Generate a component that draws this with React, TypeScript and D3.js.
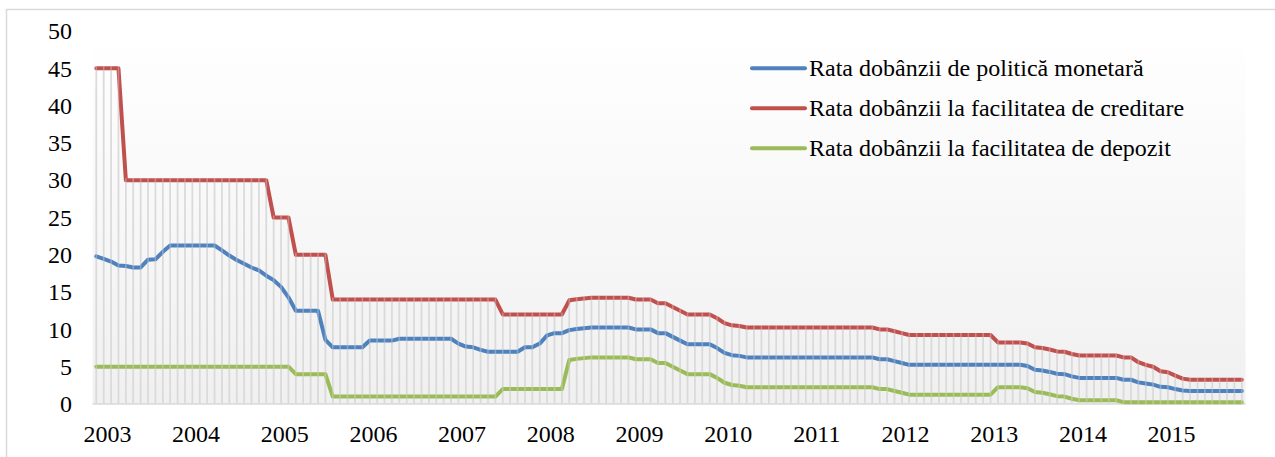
import React from "react";
import * as d3 from "d3";

// Monthly observations, January 2003 – December 2015 (percent)
const years = ["2003", "2004", "2005", "2006", "2007", "2008", "2009", "2010", "2011", "2012", "2013", "2014", "2015"];

const policyRate = [
  19.8, 19.45, 19.1, 18.55, 18.5, 18.3, 18.3, 19.35, 19.4, 20.4, 21.25, 21.25,
  21.25, 21.25, 21.25, 21.25, 21.25, 20.6, 19.9, 19.3, 18.8, 18.3, 17.9, 17.2,
  16.6, 15.7, 14.3, 12.5, 12.5, 12.5, 12.5, 8.6, 7.6, 7.6, 7.6, 7.6,
  7.6, 8.5, 8.5, 8.5, 8.5, 8.75, 8.75, 8.75, 8.75, 8.75, 8.75, 8.75,
  8.75, 8.1, 7.7, 7.6, 7.25, 7.0, 7.0, 7.0, 7.0, 7.0, 7.6, 7.6,
  8.1, 9.2, 9.5, 9.5, 9.9, 10.05, 10.15, 10.25, 10.25, 10.25, 10.25, 10.25,
  10.25, 10.0, 10.0, 10.0, 9.5, 9.5, 9.0, 8.5, 8.0, 8.0, 8.0, 8.0,
  7.5, 6.85, 6.55, 6.45, 6.25, 6.25, 6.25, 6.25, 6.25, 6.25, 6.25, 6.25,
  6.25, 6.25, 6.25, 6.25, 6.25, 6.25, 6.25, 6.25, 6.25, 6.25, 6.0, 6.0,
  5.75, 5.5, 5.25, 5.25, 5.25, 5.25, 5.25, 5.25, 5.25, 5.25, 5.25, 5.25,
  5.25, 5.25, 5.25, 5.25, 5.25, 5.25, 5.1, 4.6, 4.5, 4.3, 4.05, 4.0,
  3.7, 3.5, 3.5, 3.5, 3.5, 3.5, 3.5, 3.25, 3.25, 2.9, 2.75, 2.6,
  2.3, 2.25, 2.0, 1.8, 1.75, 1.75, 1.75, 1.75, 1.75, 1.75, 1.75, 1.75,
];

const lendingRate = [
  45, 45, 45, 45, 30, 30, 30, 30, 30, 30, 30, 30,
  30, 30, 30, 30, 30, 30, 30, 30, 30, 30, 30, 30,
  25, 25, 25, 20, 20, 20, 20, 20, 14, 14, 14, 14,
  14, 14, 14, 14, 14, 14, 14, 14, 14, 14, 14, 14,
  14, 14, 14, 14, 14, 14, 14, 12, 12, 12, 12, 12,
  12, 12, 12, 12, 13.9, 14.05, 14.15, 14.25, 14.25, 14.25, 14.25, 14.25,
  14.25, 14.0, 14.0, 14.0, 13.5, 13.5, 13.0, 12.5, 12.0, 12.0, 12.0, 12.0,
  11.5, 10.85, 10.55, 10.45, 10.25, 10.25, 10.25, 10.25, 10.25, 10.25, 10.25, 10.25,
  10.25, 10.25, 10.25, 10.25, 10.25, 10.25, 10.25, 10.25, 10.25, 10.25, 10.0, 10.0,
  9.75, 9.5, 9.25, 9.25, 9.25, 9.25, 9.25, 9.25, 9.25, 9.25, 9.25, 9.25,
  9.25, 9.25, 8.25, 8.25, 8.25, 8.25, 8.1, 7.6, 7.5, 7.3, 7.05, 7.0,
  6.7, 6.5, 6.5, 6.5, 6.5, 6.5, 6.5, 6.25, 6.25, 5.6, 5.25, 5.0,
  4.4, 4.25, 3.8, 3.4, 3.25, 3.25, 3.25, 3.25, 3.25, 3.25, 3.25, 3.25,
];

const depositRate = [
  5, 5, 5, 5, 5, 5, 5, 5, 5, 5, 5, 5,
  5, 5, 5, 5, 5, 5, 5, 5, 5, 5, 5, 5,
  5, 5, 5, 4, 4, 4, 4, 4, 1, 1, 1, 1,
  1, 1, 1, 1, 1, 1, 1, 1, 1, 1, 1, 1,
  1, 1, 1, 1, 1, 1, 1, 2, 2, 2, 2, 2,
  2, 2, 2, 2, 5.9, 6.05, 6.15, 6.25, 6.25, 6.25, 6.25, 6.25,
  6.25, 6.0, 6.0, 6.0, 5.5, 5.5, 5.0, 4.5, 4.0, 4.0, 4.0, 4.0,
  3.5, 2.85, 2.55, 2.45, 2.25, 2.25, 2.25, 2.25, 2.25, 2.25, 2.25, 2.25,
  2.25, 2.25, 2.25, 2.25, 2.25, 2.25, 2.25, 2.25, 2.25, 2.25, 2.0, 2.0,
  1.75, 1.5, 1.25, 1.25, 1.25, 1.25, 1.25, 1.25, 1.25, 1.25, 1.25, 1.25,
  1.25, 1.25, 2.25, 2.25, 2.25, 2.25, 2.1, 1.6, 1.5, 1.3, 1.05, 1.0,
  0.7, 0.5, 0.5, 0.5, 0.5, 0.5, 0.5, 0.25, 0.25, 0.25, 0.25, 0.25,
  0.25, 0.25, 0.25, 0.25, 0.25, 0.25, 0.25, 0.25, 0.25, 0.25, 0.25, 0.25,
];

const yTicks = [0, 5, 10, 15, 20, 25, 30, 35, 40, 45, 50];

const seriesNames = [
  "Rata dobânzii de politică monetară",
  "Rata dobânzii la facilitatea de creditare",
  "Rata dobânzii la facilitatea de depozit",
];
const seriesColors = ["#4f81bd", "#c0504d", "#9bbb59"];

const categories = years.flatMap((y) =>
  ["01", "02", "03", "04", "05", "06", "07", "08", "09", "10", "11", "12"].map((m) => `${y}-${m}`)
);

const W = 1275;
const H = 457;
const FONT = "'Liberation Serif', 'Times New Roman', serif";
const FS = 24;

export default function App() {
  const plot = { left: 92.6, right: 1245.5, top: 31, bottom: 404 };

  const x = d3
    .scaleBand<string>()
    .domain(categories)
    .range([plot.left, plot.right])
    .padding(0);
  const bw = x.bandwidth();
  const cx = (i: number) => (x(categories[i]) as number) + bw / 2;

  const y = d3.scaleLinear().domain([0, 50]).range([plot.bottom, plot.top]);

  const line = d3
    .line<number>()
    .x((_, i) => cx(i))
    .y((d) => y(d));

  const series = [policyRate, lendingRate, depositRate];

  // drop lines run from the highest series down to the category axis
  const tops = categories.map((_, i) => Math.max(policyRate[i], lendingRate[i], depositRate[i]));

  const dropLines = tops.map((t, i) => (
    <line key={i} x1={cx(i)} x2={cx(i)} y1={y(t)} y2={y(0)} />
  ));

  return (
    <div style={{ position: "absolute", left: 0, top: 0, width: W, height: H, overflow: "hidden", background: "#fff" }}>
      <svg width={W} height={H} style={{ display: "block" }}>
        <defs>
          <linearGradient id="plotBg" x1="0" y1="0" x2="0" y2="1">
            <stop offset="0%" stopColor="#ffffff" />
            <stop offset="100%" stopColor="#f0f0f0" />
          </linearGradient>
        </defs>

        {/* chart frame */}
        <rect x={6.5} y={9.5} width={W + 20} height={H + 20} fill="#fff" stroke="#d9d9d9" strokeWidth={1.5} />

        {/* plot area */}
        <rect
          x={plot.left}
          y={plot.top}
          width={plot.right - plot.left}
          height={plot.bottom - plot.top}
          fill="url(#plotBg)"
        />

        <g stroke="#d4d4d4" strokeWidth={1.6}>{dropLines}</g>

        <line x1={plot.left} x2={plot.right} y1={y(0)} y2={y(0)} stroke="#d9d9d9" strokeWidth={1.5} />

        {series.map((s, k) => (
          <path
            key={k}
            d={line(s) ?? ""}
            fill="none"
            stroke={seriesColors[k]}
            strokeWidth={4}
            strokeLinejoin="round"
            strokeLinecap="round"
          />
        ))}

        {/* drop lines show faintly through the series */}
        <g stroke="#e6e6e6" strokeWidth={1.6} opacity={0.35}>
          {tops.map((t, i) => (
            <line key={i} x1={cx(i)} x2={cx(i)} y1={y(t) - 2} y2={y(0)} />
          ))}
        </g>

        {/* value axis labels */}
        <g fontFamily={FONT} fontSize={FS} fill="#000" textAnchor="end">
          {yTicks.map((t) => (
            <text key={t} x={72} y={y(t) + 8.2}>
              {t}
            </text>
          ))}
        </g>

        {/* year labels */}
        <g fontFamily={FONT} fontSize={FS} fill="#000" textAnchor="middle">
          {years.map((yr, k) => (
            <text key={yr} x={(x(categories[k * 12]) as number) + 2 * bw} y={442.2}>
              {yr}
            </text>
          ))}
        </g>

        {/* legend */}
        <g fontFamily={FONT} fontSize={FS} fill="#000">
          {seriesNames.map((name, k) => {
            const ly = 68.3 + k * 40;
            return (
              <g key={name}>
                <line x1={752} x2={805} y1={ly} y2={ly} stroke={seriesColors[k]} strokeWidth={4} strokeLinecap="round" />
                <text x={809} y={ly + 8}>
                  {name}
                </text>
              </g>
            );
          })}
        </g>
      </svg>
    </div>
  );
}
